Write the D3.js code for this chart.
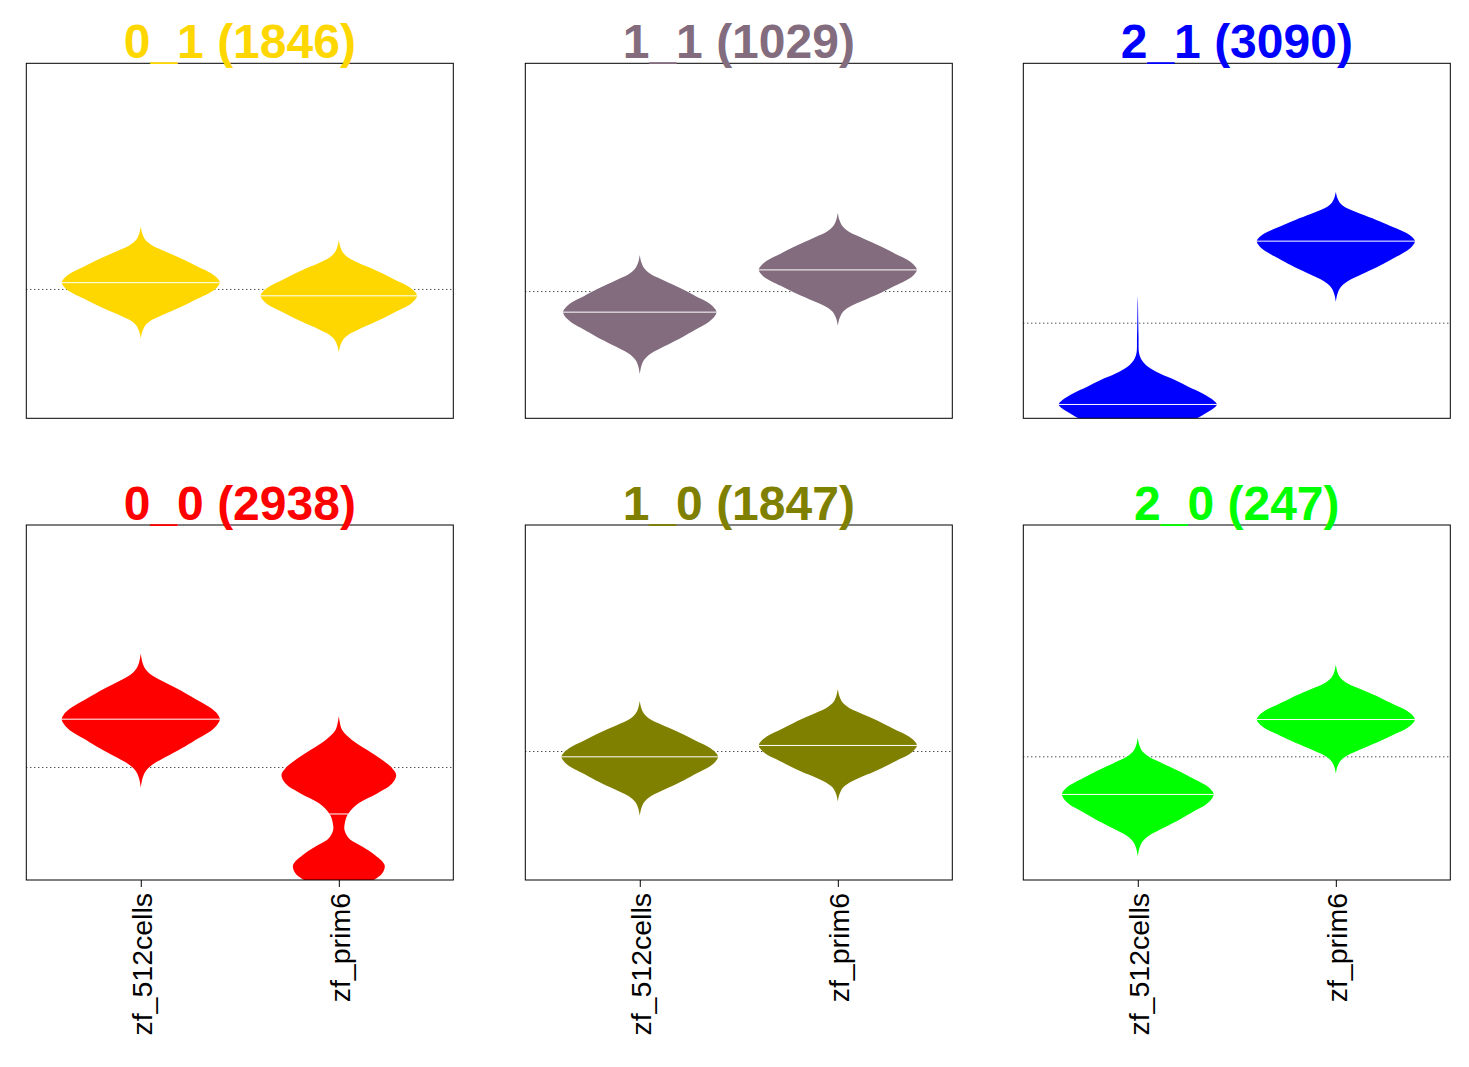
<!DOCTYPE html>
<html>
<head>
    <meta charset="utf-8">
    <title>Violins by cluster</title>
    <style>
        body { margin: 0; background: #fff; }
        text { font-family: "Liberation Sans", Arial, sans-serif; }
    </style>
</head>
<body>
<div id='plot'></div>
<script src="https://cdn.jsdelivr.net/npm/d3@7"></script>
<script>

    // values (y in 0..100 units of each panel)
    const groups = ['zf_512cells', 'zf_prim6'];
    const clusterNames = ['0_1', '1_1', '2_1', '0_0', '1_0', '2_0'];
    const clusterSizes = [1846, 1029, 3090, 2938, 1847, 247];
    const clusterColors = ['#FFD700', '#826C7E', '#0000FF', '#FF0000', '#808000', '#00FF00'];
    const overallLine = [36.3, 35.7, 26.8, 31.7, 36.2, 34.7];

    const medians512 = [38.2, 29.9, 3.9, 45.3, 34.7, 24.1];
    const tops512 = [54.0, 46.0, null, 63.8, 50.4, 40.1];
    const bottoms512 = [22.5, 12.4, null, 26.0, 18.1, 6.6];
    const widths512 = [1, 0.97, 0.98, 1, 0.99, 0.96];

    const mediansPrim6 = [34.5, 41.8, 49.9, 18.6, 37.9, 45.2];
    const topsPrim6 = [50.2, 57.9, 63.8, null, 53.8, 60.6];
    const bottomsPrim6 = [18.5, 26.1, 32.8, null, 22.1, 30.0];
    const widthsPrim6 = [0.99, 1, 1, 1, 1, 1];

    // common violin outline: [distance from median as share of tip distance, relative width]
    const violinProfile = [[0, 1], [0.03, 0.995], [0.06, 0.98], [0.1, 0.955], [0.16, 0.9], [0.22, 0.82],
        [0.28, 0.73], [0.4, 0.56], [0.52, 0.37], [0.6, 0.24], [0.66, 0.15], [0.72, 0.09], [0.78, 0.05],
        [0.88, 0.018], [1, 0]];

    // the two irregular violins: [value, relative width]
    const blue512Density = [[-9, 0], [-7, 0.05], [-5, 0.2], [-2.5, 0.5], [0, 0.75], [1.4, 0.86], [2.8, 0.96], [3.9, 1],
        [5.2, 0.95], [7.0, 0.82], [8.9, 0.64], [10.8, 0.47], [12.6, 0.28], [14.5, 0.13], [16.4, 0.05], [18.3, 0.017],
        [22.7, 0.01], [27.4, 0.006], [32.1, 0.003], [34.5, 0]];
    const redPrim6Density = [[-6, 0], [-4, 0.08], [-2, 0.25], [0, 0.44], [1.9, 0.55], [4.2, 0.58], [7.0, 0.46],
        [9.4, 0.3], [11.7, 0.13], [14.1, 0.072], [16.0, 0.076], [18.5, 0.114], [21.6, 0.25], [24.4, 0.485],
        [27.2, 0.675], [29.6, 0.726], [31.5, 0.675], [33.8, 0.55], [36.6, 0.36], [39.4, 0.17], [42.25, 0.042], [46.2, 0]];

    let svgWidth = 1469;
    let svgHeight = 1067;
    let panelW = 427;
    let panelH = 355;
    let panelLeft = [26.3, 525.3, 1023.3];
    let panelTop = [63.3, 525];

    function translate(x, y) {
        return 'translate(' + x + ',' + y + ')';
    }

    let svg = d3.select('#plot')
        .append('svg')
        .attr('width', svgWidth)
        .attr('height', svgHeight);

    let x = d3.scalePoint().domain(groups).range([0, panelW]).padding(0.578);
    let y = d3.scaleLinear().domain([0, 100]).range([panelH, 0]);
    let w = d3.scaleLinear().domain([0, 1]).range([0, 79]);

    function shapeFrom(median, top, bottom, scale) {
        let pts = [];
        violinProfile.forEach(p => {
            pts.push({v: median + p[0] * (top - median), w: p[1] * scale});
            if (p[0] > 0) pts.push({v: median - p[0] * (median - bottom), w: p[1] * scale});
        });
        return pts.sort((a, b) => a.v - b.v);
    }

    function widthAt(pts, v) {
        let i = d3.bisector(d => d.v).left(pts, v);
        if (i <= 0) return pts[0].w;
        if (i >= pts.length) return pts[pts.length - 1].w;
        let a = pts[i - 1], b = pts[i];
        return a.w + (b.w - a.w) * (v - a.v) / (b.v - a.v);
    }

    clusterNames.forEach(function(name, k) {
        let col = k % 3, row = Math.floor(k / 3);
        let g = svg.append('g').attr('transform', translate(panelLeft[col], panelTop[row]));

        g.append('clipPath').attr('id', 'clip' + k)
            .append('rect').attr('width', panelW).attr('height', panelH);

        let inner = g.append('g').attr('clip-path', 'url(#clip' + k + ')');

        inner.append('line')
            .attr('x1', 0).attr('x2', panelW)
            .attr('y1', y(overallLine[k])).attr('y2', y(overallLine[k]))
            .attr('stroke', '#000')
            .attr('stroke-width', 1)
            .attr('stroke-dasharray', '1,3');

        let violins = [
            {group: groups[0], median: medians512[k],
             pts: name === '2_1' ? blue512Density.map(d => ({v: d[0], w: d[1]}))
                 : shapeFrom(medians512[k], tops512[k], bottoms512[k], widths512[k])},
            {group: groups[1], median: mediansPrim6[k],
             pts: name === '0_0' ? redPrim6Density.map(d => ({v: d[0], w: d[1]}))
                 : shapeFrom(mediansPrim6[k], topsPrim6[k], bottomsPrim6[k], widthsPrim6[k])}
        ];

        violins.forEach(function(vl) {
            let cx = x(vl.group);
            let area = d3.area()
                .x0(d => cx - w(d.w))
                .x1(d => cx + w(d.w))
                .y(d => y(d.v))
                .curve(d3.curveCatmullRom);
            inner.append('path')
                .attr('d', area(vl.pts))
                .attr('fill', clusterColors[k]);
            let half = w(widthAt(vl.pts, vl.median));
            inner.append('line')
                .attr('x1', cx - half).attr('x2', cx + half)
                .attr('y1', y(vl.median)).attr('y2', y(vl.median))
                .attr('stroke', '#fff')
                .attr('stroke-width', 1);
        });

        g.append('rect')
            .attr('width', panelW).attr('height', panelH)
            .attr('fill', 'none')
            .attr('stroke', '#000')
            .attr('stroke-width', 1);

        if (row === 1) {
            let xAxis = d3.axisBottom(x).tickSize(7).tickSizeOuter(0);
            let ax = g.append('g')
                .attr('transform', translate(0, panelH))
                .call(xAxis);
            ax.select('.domain').remove();
            ax.selectAll('.tick line').attr('stroke', '#000');
            ax.selectAll('.tick text')
                .attr('transform', 'translate(0,13) rotate(-90)')
                .attr('x', 0).attr('y', 0)
                .attr('dy', '0.37em')
                .attr('text-anchor', 'end')
                .attr('fill', '#000')
                .style('font-size', '28.5px')
                .style('font-family', '"Liberation Sans", Arial, sans-serif');
        }

        g.append('text')
            .attr('x', panelW / 2)
            .attr('y', row === 0 ? 58 - panelTop[0] : 520 - panelTop[1])
            .attr('text-anchor', 'middle')
            .attr('fill', clusterColors[k])
            .style('font-size', '48px')
            .style('font-weight', 'bold')
            .text(name + ' (' + clusterSizes[k] + ')');
    });

</script>
</body>
</html>
